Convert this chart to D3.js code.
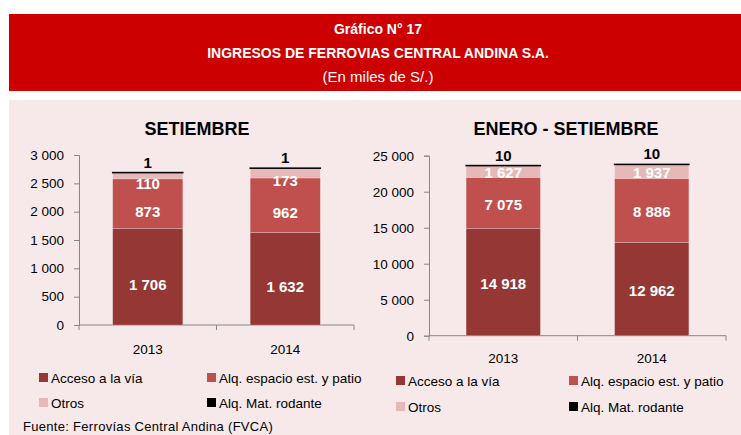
<!DOCTYPE html>
<html>
<head>
<meta charset="utf-8">
<script src="https://cdn.jsdelivr.net/npm/d3@7/dist/d3.min.js"></script>
<style>
  html, body { margin: 0; padding: 0; background: #ffffff; }
  svg { display: block; font-family: "Liberation Sans", Arial, sans-serif; }
</style>
</head>
<body>
<svg id="chart" width="741" height="435"></svg>
<script>
// ---------------- DATA ----------------
const years = ["2013", "2014"];
const seriesNames = ["Acceso a la vía", "Alq. espacio est. y patio", "Otros", "Alq. Mat. rodante"];
const seriesKeys = ["acceso", "alq", "otros", "mat"];

// SETIEMBRE (miles de S/.)
const setAcceso = [1706, 1632];
const setAlq    = [873, 962];
const setOtros  = [110, 173];
const setMat    = [1, 1];
const setTicks  = [0, 500, 1000, 1500, 2000, 2500, 3000];

// ENERO - SETIEMBRE (miles de S/.)
const eneAcceso = [14918, 12962];
const eneAlq    = [7075, 8886];
const eneOtros  = [1627, 1937];
const eneMat    = [10, 10];
const eneTicks  = [0, 5000, 10000, 15000, 20000, 25000];

const titleLines = ["Gráfico N° 17", "INGRESOS DE FERROVIAS CENTRAL ANDINA S.A.", "(En miles de S/.)"];
const sourceText = "Fuente: Ferrovías Central Andina (FVCA)";

// ---------------- STYLE ----------------
const colors = { acceso: "#953735", alq: "#C0504D", otros: "#E6B9B8", mat: "#000000" };
const fmt = d3.formatLocale({ decimal: ",", thousands: " ", grouping: [3], currency: ["", ""] }).format(",d");

const svg = d3.select("#chart");

// Banner
svg.append("rect").attr("x", 9).attr("y", 14).attr("width", 732).attr("height", 77).attr("fill", "#CC0000");
const bannerCx = 378;
svg.append("text").attr("x", bannerCx).attr("y", 34).attr("text-anchor", "middle")
  .attr("fill", "#fff").attr("font-weight", "bold").attr("font-size", 14).text(titleLines[0]);
svg.append("text").attr("x", bannerCx).attr("y", 58).attr("text-anchor", "middle")
  .attr("fill", "#fff").attr("font-weight", "bold").attr("font-size", 14).text(titleLines[1]);
svg.append("text").attr("x", bannerCx).attr("y", 82).attr("text-anchor", "middle")
  .attr("fill", "#fff").attr("font-size", 15).text(titleLines[2]);

// Panel
svg.append("rect").attr("x", 9).attr("y", 100).attr("width", 732).attr("height", 335).attr("fill", "#F7E9EA");

function drawChart(cfg) {
  const rows = years.map((y, i) => ({
    year: y, acceso: cfg.acceso[i], alq: cfg.alq[i], otros: cfg.otros[i], mat: cfg.mat[i]
  }));
  const x = d3.scaleBand().domain(years).range([cfg.x0, cfg.x1]).paddingInner(cfg.pad).paddingOuter(cfg.pad / 2);
  const y = d3.scaleLinear().domain([0, d3.max(cfg.ticks)]).range([cfg.yBottom, cfg.yTop]);
  const stacked = d3.stack().keys(seriesKeys)(rows);

  const g = svg.append("g");

  // title
  g.append("text").attr("x", cfg.titleX).attr("y", 135).attr("text-anchor", "middle")
    .attr("font-weight", "bold").attr("font-size", 18).attr("fill", "#000").text(cfg.title);

  // y axis
  const yAxis = d3.axisLeft(y).tickValues(cfg.ticks).tickFormat(fmt).tickSizeOuter(0).tickSize(5).tickPadding(10);
  const ya = g.append("g").attr("transform", `translate(${cfg.x0},0)`).call(yAxis);
  ya.select(".domain").attr("stroke", "#868686");
  ya.selectAll(".tick line").attr("stroke", "#868686");
  ya.selectAll(".tick text").attr("font-size", 13.5).attr("fill", "#000")
    .attr("font-family", "Liberation Sans, Arial, sans-serif");

  // x axis line + ticks at band boundaries
  const xa = g.append("g");
  xa.append("line").attr("x1", cfg.x0).attr("x2", cfg.x1).attr("y1", cfg.yBottom).attr("y2", cfg.yBottom)
    .attr("stroke", "#868686");
  const bounds = [cfg.x0].concat(years.map(d => x(d) + x.bandwidth() + x.step() * cfg.pad / 2));
  xa.selectAll("line.tk").data(bounds).join("line").attr("class", "tk")
    .attr("x1", d => d).attr("x2", d => d).attr("y1", cfg.yBottom).attr("y2", cfg.yBottom + 5)
    .attr("stroke", "#868686");
  xa.selectAll("text").data(years).join("text")
    .attr("x", d => x(d) + x.bandwidth() / 2).attr("y", cfg.catY).attr("text-anchor", "middle")
    .attr("font-size", 13.5).attr("fill", "#000").text(d => d);

  // bars
  stacked.forEach(layer => {
    const key = layer.key;
    g.append("g").selectAll("rect").data(layer).join("rect")
      .attr("x", d => x(d.data.year)).attr("width", x.bandwidth())
      .attr("y", d => y(d[1])).attr("height", d => y(d[0]) - y(d[1]))
      .attr("fill", colors[key])
      .attr("stroke", key === "mat" ? "#000" : "rgba(255,255,255,0.35)")
      .attr("stroke-width", key === "mat" ? 1.5 : 0.6);
  });

  // labels
  stacked.forEach(layer => {
    const key = layer.key;
    g.append("g").selectAll("text").data(layer).join("text")
      .attr("x", d => x(d.data.year) + x.bandwidth() / 2)
      .attr("y", d => key === "mat" ? y(d[1]) - 5 : (y(d[0]) + y(d[1])) / 2 + cfg.labelDy)
      .attr("text-anchor", "middle")
      .attr("font-weight", "bold").attr("font-size", 15)
      .attr("fill", key === "mat" ? "#000" : "#fff")
      .text(d => fmt(d[1] - d[0]));
  });

  // legend
  const lg = g.append("g");
  seriesKeys.forEach((k, i) => {
    const col = i % 2, row = Math.floor(i / 2);
    const lx = cfg.legX[col], ly = cfg.legY[row];
    lg.append("rect").attr("x", lx).attr("y", ly).attr("width", 9).attr("height", 9).attr("fill", colors[k]);
    lg.append("text").attr("x", lx + 12).attr("y", ly + 10).attr("font-size", 13.5).attr("fill", "#000")
      .text(seriesNames[i]);
  });
}

drawChart({
  title: "SETIEMBRE", titleX: 197,
  acceso: setAcceso, alq: setAlq, otros: setOtros, mat: setMat, ticks: setTicks,
  x0: 79, x1: 354, pad: 0.49, yBottom: 325, yTop: 155, labelDy: 13, catY: 354,
  legX: [39, 207], legY: [373, 398]
});

drawChart({
  title: "ENERO - SETIEMBRE", titleX: 566,
  acceso: eneAcceso, alq: eneAlq, otros: eneOtros, mat: eneMat, ticks: eneTicks,
  x0: 429, x1: 726, pad: 0.5, yBottom: 335.7, yTop: 155.7, labelDy: 7, catY: 363,
  legX: [396, 569], legY: [376, 402]
});

svg.append("text").attr("x", 23).attr("y", 431).attr("font-size", 13).attr("fill", "#000")
  .attr("letter-spacing", 0.3).text(sourceText);
</script>
</body>
</html>
